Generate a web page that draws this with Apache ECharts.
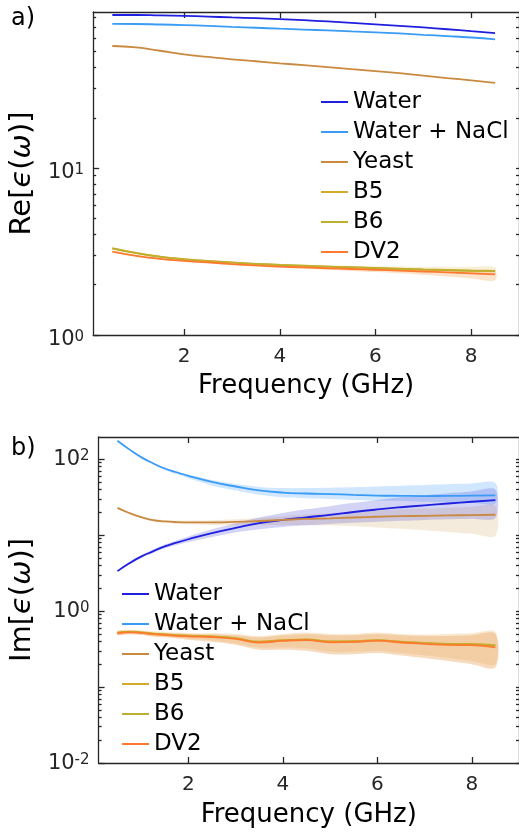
<!DOCTYPE html>
<html>
<head>
<meta charset="utf-8">
<script src="https://cdn.jsdelivr.net/npm/echarts@6/dist/echarts.min.js"></script>
<style>
    html, body { margin: 0; padding: 0; background: #fff; }
    #chart { width: 519px; height: 837px; }
</style>
</head>
<body>
<div id="chart"></div>
<script>
    var FONT = 'DejaVu Sans';
    var AXIS_COLOR = '#262626';

    // ticks
    var freqTicks = [2, 4, 6, 8];
    var reLabels = [1, 10];
    var reMajor = [1, 10];
    var reMinor = [2, 3, 4, 5, 6, 7, 8, 9, 20, 30, 40, 50, 60, 70, 80];
    var imLabels = [0.01, 1, 100];
    var imMajor = [0.01, 0.1, 1, 10, 100];
    var imMinor = [0.02, 0.03, 0.04, 0.05, 0.06, 0.07, 0.08, 0.09,
        0.2, 0.3, 0.4, 0.5, 0.6, 0.7, 0.8, 0.9,
        2, 3, 4, 5, 6, 7, 8, 9,
        20, 30, 40, 50, 60, 70, 80, 90];

    var names = ['Water', 'Water + NaCl', 'Yeast', 'B5', 'B6', 'DV2'];
    var colors = ['#1f1fe0', '#3a9cf5', '#c98a3f', '#d4aa2b', '#bdb02e', '#ff7a2e'];

    // a) Re[eps]
    var reFreq = [0.5, 1, 1.5, 2, 2.5, 3, 3.5, 4, 4.5, 5, 5.5, 6, 6.5, 7, 7.5, 8, 8.5];
    var reWater = [82.5, 82.5, 82, 81.5, 80.7, 79.8, 79, 78, 76.8, 75.5, 74, 72.5, 71, 69.5, 67.8, 66, 64.3];
    var reNaCl = [73, 72.9, 72.4, 71.8, 71, 70, 69.2, 68.3, 67.5, 66.7, 65.8, 65, 64, 62.8, 61.7, 60.5, 59];
    var reYeast = [53.8, 52.8, 50.4, 48, 46.3, 44.8, 43.6, 42.4, 41.3, 40.2, 39.1, 38.1, 37, 35.8, 34.6, 33.5, 32.4];
    var reB5 = [3.31, 3.1, 2.95, 2.85, 2.78, 2.72, 2.67, 2.63, 2.6, 2.57, 2.545, 2.52, 2.495, 2.47, 2.45, 2.43, 2.42];
    var reB6 = [3.29, 3.09, 2.94, 2.84, 2.77, 2.71, 2.665, 2.625, 2.595, 2.565, 2.54, 2.515, 2.49, 2.465, 2.445, 2.425, 2.41];
    var reDV2 = [3.16, 2.98, 2.86, 2.78, 2.72, 2.66, 2.61, 2.57, 2.54, 2.51, 2.485, 2.46, 2.43, 2.4, 2.37, 2.34, 2.31];
    var reBHi = [3.34, 3.13, 2.98, 2.88, 2.81, 2.75, 2.71, 2.67, 2.64, 2.62, 2.6, 2.58, 2.57, 2.56, 2.56, 2.56, 2.56];
    var reBLo = [3.28, 3.07, 2.92, 2.82, 2.75, 2.69, 2.63, 2.59, 2.56, 2.52, 2.49, 2.46, 2.43, 2.40, 2.37, 2.35, 2.33];
    var reDVHi = [3.19, 3.01, 2.89, 2.81, 2.75, 2.69, 2.65, 2.61, 2.58, 2.56, 2.54, 2.52, 2.5, 2.48, 2.46, 2.44, 2.43];
    var reDVLo = [3.13, 2.95, 2.83, 2.75, 2.69, 2.63, 2.57, 2.53, 2.49, 2.46, 2.42, 2.38, 2.34, 2.29, 2.24, 2.18, 2.12];

    // b) Im[eps]
    var imFreq = [0.5, 0.75, 1, 1.25, 1.5, 1.75, 2, 2.5, 3, 3.5, 4, 4.5, 5, 5.5, 6, 6.5, 7, 7.5, 8, 8.5];
    var imWater = [3.35, 4.25, 5.2, 6.1, 7.1, 7.95, 8.8, 10.6, 12.4, 14.3, 15.8, 17.1, 18.4, 20.1, 21.7, 23.2, 24.6, 26, 27.4, 28.8];
    var imNaCl = [174, 134, 106, 88, 75, 67, 60, 50, 43.5, 38.8, 36.2, 35.2, 34.6, 33.8, 33.1, 32.8, 32.6, 32.7, 33, 33.3];
    var imYeast = [22.8, 19.5, 17.2, 15.7, 15.1, 14.8, 14.7, 14.7, 14.9, 15.3, 15.8, 16.3, 16.6, 17.0, 17.4, 17.7, 17.9, 18.1, 18.3, 18.5];
    var imB5 = [0.52, 0.535, 0.525, 0.505, 0.495, 0.482, 0.475, 0.465, 0.44, 0.395, 0.413, 0.423, 0.397, 0.4, 0.415, 0.395, 0.382, 0.37, 0.368, 0.355];
    var imB6 = [0.515, 0.53, 0.52, 0.5, 0.49, 0.478, 0.47, 0.46, 0.436, 0.392, 0.41, 0.42, 0.394, 0.397, 0.412, 0.392, 0.379, 0.367, 0.365, 0.352];
    var imDV2 = [0.51, 0.525, 0.515, 0.495, 0.485, 0.472, 0.465, 0.455, 0.43, 0.385, 0.405, 0.415, 0.388, 0.392, 0.407, 0.385, 0.37, 0.358, 0.355, 0.333];
    var imNaClHi = [176, 136, 108, 90, 77, 69, 62.5, 53, 47, 43, 41.5, 41.5, 42, 42.5, 43.5, 44.5, 45.5, 46.5, 47.5, 48.5];
    var imNaClLo = [172, 132, 104, 86, 72, 63.5, 56, 45, 38.5, 34, 31.5, 30.5, 29.8, 29, 28.5, 28, 27.5, 27, 26.5, 26];
    var imWaterHi = [3.4, 4.4, 5.4, 6.4, 7.5, 8.5, 9.6, 11.9, 14.3, 17, 19.5, 21.8, 24, 26.5, 29, 31.5, 33.5, 35.5, 37.5, 39.5];
    var imWaterLo = [3.3, 4.1, 5.0, 5.8, 6.7, 7.4, 8.1, 9.4, 10.8, 11.9, 12.8, 13.4, 14, 14.5, 15, 15.4, 15.8, 16.1, 16.4, 16.7];
    var imYeastHi = [23.2, 19.9, 17.6, 16.2, 15.7, 15.5, 15.5, 15.7, 16.1, 16.8, 17.7, 18.6, 19.4, 20.2, 21, 21.7, 22.3, 22.9, 23.5, 24];
    var imYeastLo = [22.4, 19.1, 16.8, 15.2, 14.5, 14.1, 13.9, 13.6, 13.5, 13.5, 13.6, 13.5, 13.3, 13, 12.6, 12.1, 11.6, 11, 10.4, 9.8];
    var imBHi = [0.55, 0.565, 0.56, 0.54, 0.53, 0.52, 0.515, 0.51, 0.5, 0.47, 0.5, 0.52, 0.5, 0.5, 0.52, 0.5, 0.49, 0.5, 0.51, 0.53];
    var imBLo = [0.49, 0.505, 0.495, 0.47, 0.46, 0.445, 0.43, 0.41, 0.375, 0.33, 0.33, 0.32, 0.29, 0.29, 0.3, 0.28, 0.26, 0.24, 0.22, 0.2];
    var imDVHi = [0.54, 0.555, 0.545, 0.525, 0.515, 0.505, 0.5, 0.495, 0.48, 0.45, 0.48, 0.5, 0.48, 0.48, 0.5, 0.48, 0.47, 0.47, 0.48, 0.5];
    var imDVLo = [0.48, 0.495, 0.485, 0.46, 0.45, 0.435, 0.42, 0.395, 0.36, 0.31, 0.31, 0.3, 0.27, 0.27, 0.28, 0.26, 0.24, 0.22, 0.2, 0.18];

    function pairs(xs, ys) {
        return xs.map(function (x, i) { return [x, ys[i]]; });
    }

    function powLabel(v) {
        var e = Math.round(Math.log(v) / Math.LN10);
        return '{b|10}{s|' + e + '}';
    }

    var richPow = {
        b: { fontSize: 21, lineHeight: 21, verticalAlign: 'bottom', fontFamily: FONT, color: AXIS_COLOR },
        s: { fontSize: 15, lineHeight: 15, verticalAlign: 'top', padding: [0, 0, 8, 0], fontFamily: FONT, color: AXIS_COLOR }
    };

    var lineStyleAxis = { color: AXIS_COLOR, width: 1.3 };

    function xAxes(gi) {
        return [
            {
                type: 'value', gridIndex: gi, min: 0.1, max: 9, position: 'bottom',
                axisLine: { show: true, onZero: false, lineStyle: lineStyleAxis },
                axisTick: { show: true, inside: true, length: 6, customValues: freqTicks, lineStyle: lineStyleAxis },
                axisLabel: { customValues: freqTicks, fontSize: 20, fontFamily: FONT, color: AXIS_COLOR, margin: 12 },
                splitLine: { show: false },
                name: 'Frequency (GHz)', nameLocation: 'middle', nameGap: gi === 0 ? 38 : 39,
                nameTextStyle: { fontSize: 26, fontFamily: FONT, color: '#000' }
            },
            {
                type: 'value', gridIndex: gi, min: 0.1, max: 9, position: 'top',
                axisLine: { show: true, onZero: false, lineStyle: lineStyleAxis },
                axisTick: { show: true, inside: true, length: 6, customValues: freqTicks, lineStyle: lineStyleAxis },
                axisLabel: { show: false },
                splitLine: { show: false }
            }
        ];
    }

    function yAxes(gi, min, max, labels, majors, minors, labelPad, name) {
        return [
            {
                type: 'log', gridIndex: gi, min: min, max: max, position: 'left',
                axisLine: { show: true, onZero: false, lineStyle: lineStyleAxis },
                axisTick: { show: true, inside: true, length: 6, customValues: majors, lineStyle: lineStyleAxis },
                axisLabel: { customValues: labels, formatter: powLabel, rich: richPow, margin: 9, padding: labelPad },
                splitLine: { show: false },
                name: name, nameLocation: 'middle', nameGap: 49,
                nameTextStyle: {
                    fontSize: 29, fontFamily: FONT, color: '#000',
                    rich: { i: { fontSize: 29, fontFamily: FONT, fontStyle: 'italic', color: '#000' } }
                }
            },
            {
                type: 'log', gridIndex: gi, min: min, max: max, position: 'left',
                axisLine: { show: false },
                axisTick: { show: true, inside: true, length: 3, customValues: minors, lineStyle: lineStyleAxis },
                axisLabel: { show: false },
                splitLine: { show: false }
            },
            {
                type: 'log', gridIndex: gi, min: min, max: max, position: 'right',
                axisLine: { show: true, onZero: false, lineStyle: lineStyleAxis },
                axisTick: { show: true, inside: true, length: 3, customValues: majors.concat(minors), lineStyle: lineStyleAxis },
                axisLabel: { show: false },
                splitLine: { show: false }
            }
        ];
    }

    function lineSeries(name, color, xi, yi, xs, ys) {
        return {
            name: name, type: 'line', xAxisIndex: xi, yAxisIndex: yi,
            data: pairs(xs, ys), color: color,
            showSymbol: false, symbol: 'none', smooth: true, z: 5,
            lineStyle: { color: color, width: 1.8 }
        };
    }

    function bandSeries(xi, yi, xs, lo, hi, fill) {
        return {
            type: 'custom', xAxisIndex: xi, yAxisIndex: yi, silent: true, z: 2,
            data: [[xs[0], hi[0]]],
            renderItem: function (params, api) {
                var pts = [];
                for (var i = 0; i < xs.length; i++) pts.push(api.coord([xs[i], hi[i]]));
                for (var j = xs.length - 1; j >= 0; j--) pts.push(api.coord([xs[j], lo[j]]));
                return { type: 'polygon', shape: { points: pts, smooth: 0.3 }, style: { fill: fill } };
            }
        };
    }

    function legend(left, top) {
        return {
            data: names, orient: 'vertical', left: left, top: top,
            icon: 'rect', itemWidth: 27, itemHeight: 2, itemGap: 0,
            selectedMode: false,
            textStyle: { fontSize: 23, fontFamily: FONT, color: '#000', lineHeight: 30 }
        };
    }

    var chart = echarts.init(document.getElementById('chart'), null, { renderer: 'canvas' });
    chart.setOption({
        animation: false,
        backgroundColor: '#fff',
        grid: [
            { left: 88, top: 12, right: 0, bottom: 502 },
            { left: 97, top: 437, right: 0, bottom: 74 }
        ],
        xAxis: xAxes(0).concat(xAxes(1)),
        yAxis: yAxes(0, 1, 86, reLabels, reMajor, reMinor, [10, 0, 0, 0], 'Re[{i|ϵ}({i|ω})]')
            .concat(yAxes(1, 0.01, 195, imLabels, imMajor, imMinor, [1, 0, 0, 0], 'Im[{i|ϵ}({i|ω})]')),
        legend: [legend(316, 82), legend(117, 574)],
        graphic: [
            { type: 'text', left: 11, top: 7, style: { text: 'a)', fontSize: 24, fontFamily: FONT, fill: '#000' } },
            { type: 'text', left: 11, top: 437, style: { text: 'b)', fontSize: 24, fontFamily: FONT, fill: '#000' } }
        ],
        series: [
            bandSeries(0, 0, reFreq, reBLo, reBHi, 'rgba(232, 210, 140, 0.35)'),
            bandSeries(0, 0, reFreq, reDVLo, reDVHi, 'rgba(245, 175, 110, 0.35)'),
            lineSeries(names[0], colors[0], 0, 0, reFreq, reWater),
            lineSeries(names[1], colors[1], 0, 0, reFreq, reNaCl),
            lineSeries(names[2], colors[2], 0, 0, reFreq, reYeast),
            lineSeries(names[3], colors[3], 0, 0, reFreq, reB5),
            lineSeries(names[4], colors[4], 0, 0, reFreq, reB6),
            lineSeries(names[5], colors[5], 0, 0, reFreq, reDV2),

            bandSeries(2, 3, imFreq, imYeastLo, imYeastHi, 'rgba(222, 190, 140, 0.3)'),
            bandSeries(2, 3, imFreq, imNaClLo, imNaClHi, 'rgba(120, 185, 255, 0.35)'),
            bandSeries(2, 3, imFreq, imWaterLo, imWaterHi, 'rgba(80, 80, 215, 0.25)'),
            bandSeries(2, 3, imFreq, imBLo, imBHi, 'rgba(240, 205, 150, 0.45)'),
            bandSeries(2, 3, imFreq, imDVLo, imDVHi, 'rgba(238, 175, 110, 0.45)'),
            lineSeries(names[0], colors[0], 2, 3, imFreq, imWater),
            lineSeries(names[1], colors[1], 2, 3, imFreq, imNaCl),
            lineSeries(names[2], colors[2], 2, 3, imFreq, imYeast),
            lineSeries(names[3], colors[3], 2, 3, imFreq, imB5),
            lineSeries(names[4], colors[4], 2, 3, imFreq, imB6),
            lineSeries(names[5], colors[5], 2, 3, imFreq, imDV2)
        ]
    });
</script>
</body>
</html>
